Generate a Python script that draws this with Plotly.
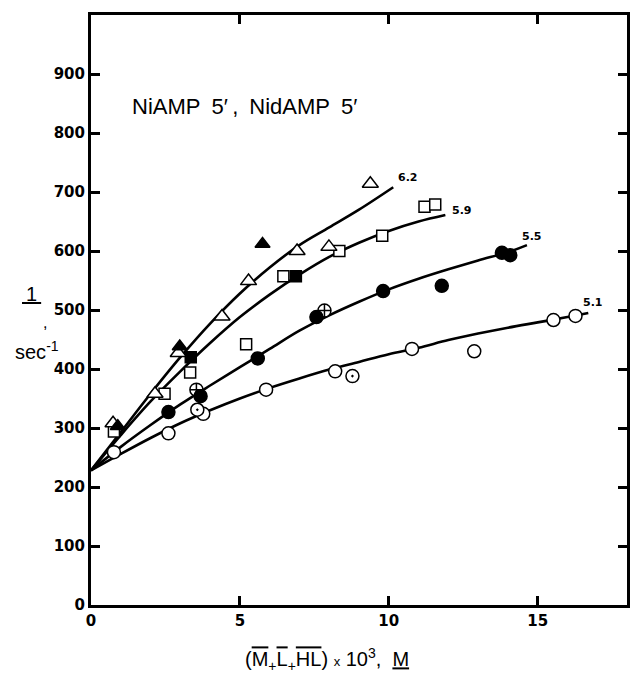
import plotly.graph_objects as go

# ---- data ----
tri_open_x = [0.74, 2.15, 2.93, 4.4, 5.29, 6.92, 7.99, 9.38]
tri_open_y = [308, 358, 427, 489, 549, 600, 607, 714]
tri_fill_x = [0.9, 2.98, 5.76]
tri_fill_y = [303, 438, 612]
sq_open_x = [0.77, 2.47, 3.33, 5.21, 6.46, 8.34, 9.78, 11.2, 11.56]
sq_open_y = [294, 358, 394, 442, 557, 600, 626, 675, 679]
sq_fill_x = [3.35, 6.88]
sq_fill_y = [420, 557]
ci_fill_x = [2.6, 3.68, 5.6, 7.57, 9.81, 11.78, 13.8, 14.08]
ci_fill_y = [327, 354, 418, 488, 532, 541, 597, 593]
ci_plus_x = [3.54, 7.84]
ci_plus_y = [365, 499]
ci_open_x = [0.77, 2.6, 3.77, 5.88, 8.2, 10.78, 12.87, 15.53, 16.27]
ci_open_y = [259, 291, 324, 365, 396, 434, 430, 483, 490]
ci_dot_x = [3.57, 8.78]
ci_dot_y = [331, 388]

# fitted curves
c62_x = [0, 1, 2, 3, 4, 5, 6, 7, 8, 9, 10.15]
c62_y = [228, 293, 358, 420, 477, 528, 572, 610, 640, 670, 708]
c59_x = [0, 1, 2, 3, 4, 5, 6, 7, 8, 9, 10, 11, 11.9]
c59_y = [228, 288, 345, 396, 444, 488, 526, 560, 590, 614, 634, 650, 661]
c55_x = [0, 1, 2, 3, 4, 5, 6, 7, 8, 9, 10, 11, 12, 13, 14, 14.64]
c55_y = [228, 268, 305, 340, 372, 403, 434, 465, 491, 514, 535, 553, 569, 584, 598, 610]
c51_x = [0, 1, 2, 3, 4, 5, 6, 7, 8, 9, 10, 11, 12, 13, 14, 15, 16, 16.7]
c51_y = [228, 256, 283, 308, 330, 350, 368, 384, 399, 412, 425, 436, 449, 460, 470, 479, 488, 495]

curve_labels = ["6.2", "5.9", "5.5", "5.1"]
label_x = [10.65, 12.45, 14.8, 16.85]
label_y = [724, 668, 624, 512]

x_ticks = [0, 5, 10, 15]
y_ticks = [0, 100, 200, 300, 400, 500, 600, 700, 800, 900]

fig = go.Figure()

for cx, cy in [(c62_x, c62_y), (c59_x, c59_y), (c55_x, c55_y), (c51_x, c51_y)]:
    fig.add_trace(go.Scatter(x=cx, y=cy, mode="lines",
                             line=dict(color="black", width=2.6, shape="spline", smoothing=1.0),
                             hoverinfo="skip", showlegend=False))

def pts(x, y, symbol, size, fill, lw=1.5):
    fig.add_trace(go.Scatter(x=x, y=y, mode="markers", showlegend=False,
                             marker=dict(symbol=symbol, size=size, color=fill,
                                         line=dict(color="black", width=lw))))

pts(ci_open_x, ci_open_y, "circle", 13, "white")
pts(ci_dot_x, ci_dot_y, "circle-dot", 13, "white")
pts(ci_plus_x, ci_plus_y, "circle-cross", 13, "white")
pts(ci_fill_x, ci_fill_y, "circle", 13, "black")
pts(sq_open_x, sq_open_y, "square", 11, "white")
pts(sq_fill_x, sq_fill_y, "square", 11, "black")
pts(tri_open_x, tri_open_y, "triangle-up", 14, "white")
pts(tri_fill_x, tri_fill_y, "triangle-up", 13, "black")

for t, lx, ly in zip(curve_labels, label_x, label_y):
    fig.add_annotation(x=lx, y=ly, text="<b>" + t + "</b>", showarrow=False,
                       font=dict(family="DejaVu Sans", size=11, color="black"))

fig.add_annotation(x=1.32, y=845, xanchor="left",
                   text="NiAMP\u20025\u2032\u2009,\u2002NidAMP\u20025\u2032",
                   showarrow=False, font=dict(family="Liberation Sans", size=22, color="black"))

# y-axis label pieces
fig.add_annotation(xref="paper", yref="paper", x=-0.132, y=0.527, text="<u>\u20091\u2009</u>",
                   showarrow=False, font=dict(family="Liberation Sans", size=20, color="black"))
fig.add_annotation(xref="paper", yref="paper", x=-0.094, y=0.478, text=",",
                   showarrow=False, font=dict(family="Liberation Sans", size=16, color="black"))
fig.add_annotation(xref="paper", yref="paper", x=-0.146, y=0.432, text="sec<sup>-1</sup>",
                   showarrow=False, font=dict(family="Liberation Sans", size=20, color="black"))

ov = "<span style='text-decoration:overline'>%s</span>"
xtitle = ("(" + ov % "M" + "<sub>+</sub>" + ov % "L" + "<sub>+</sub>" + ov % "HL" +
          ") <span style='font-size:13px'>x</span> 10<sup>3</sup>,  <u>M</u>")
fig.add_annotation(xref="paper", yref="paper", x=0.44, y=-0.12, yanchor="bottom",
                   text=xtitle, showarrow=False,
                   font=dict(family="Liberation Sans", size=20, color="black"))

axis_common = dict(showgrid=False, zeroline=False, showline=True, linecolor="black",
                   linewidth=3, mirror="allticks", ticks="inside", ticklen=9,
                   tickwidth=3, tickcolor="black",
                   tickfont=dict(family="DejaVu Sans", size=15, color="black"))

fig.update_xaxes(range=[0, 18], tickvals=x_ticks,
                 ticktext=["<b>%d</b>" % v for v in x_ticks], **axis_common)
fig.update_yaxes(range=[0, 1000], tickvals=y_ticks,
                 ticktext=["<b>%d</b>" % v for v in y_ticks], **axis_common)

fig.update_layout(width=631, height=677, plot_bgcolor="white", paper_bgcolor="white",
                  margin=dict(l=91, r=1, t=15, b=72))

fig.write_html("out.html", config={"displayModeBar": False},
               post_script="document.body.style.margin='0';document.body.style.overflow='hidden';")
